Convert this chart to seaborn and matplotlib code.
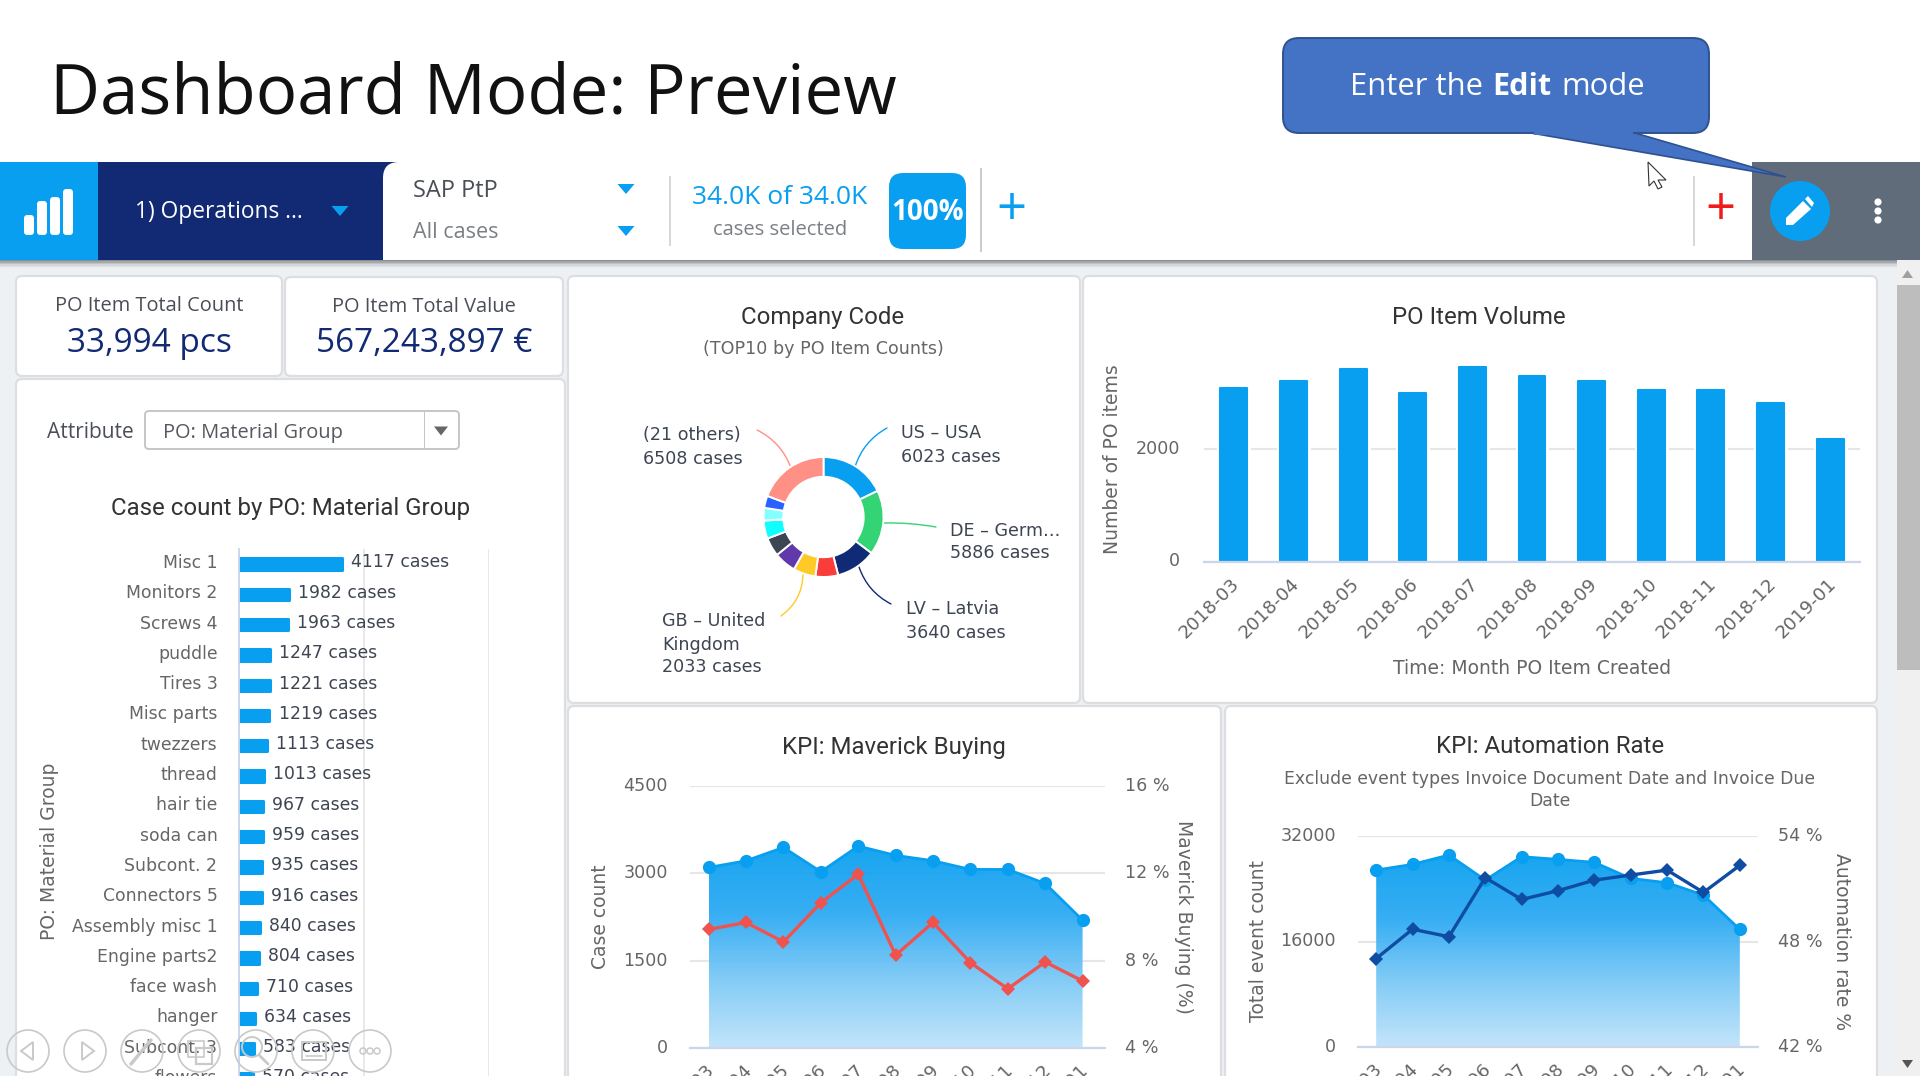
# Process mining dashboard screenshot rebuilt with seaborn charts on a pixel-sized canvas

import numpy as np
import pandas as pd
import matplotlib.pyplot as plt
import matplotlib.patheffects as pe
from matplotlib.colors import LinearSegmentedColormap
from matplotlib.patches import Circle, FancyBboxPatch, Polygon, Rectangle
from matplotlib.transforms import ScaledTranslation
import seaborn as sns

# Chart data
months = ["2018-03", "2018-04", "2018-05", "2018-06", "2018-07", "2018-08",
          "2018-09", "2018-10", "2018-11", "2018-12", "2019-01"]
po_volume = [3077, 3207, 3420, 2988, 3450, 3290, 3207, 3047, 3047, 2811, 2172]
case_count = [3101, 3216, 3445, 3027, 3468, 3308, 3216, 3067, 3067, 2826, 2196]
maverick_pct = [9.43, 9.75, 8.86, 10.65, 11.96, 8.25, 9.75, 7.91, 6.71, 7.94, 7.07]
event_count = [26835, 27696, 29114, 25316, 28861, 28456, 28000, 25570, 24911, 23038, 17823]
automation_pct = [47.03, 48.70, 48.27, 51.63, 50.39, 50.89, 51.49, 51.78, 52.06, 50.79, 52.33]

groups = ["Misc 1", "Monitors 2", "Screws 4", "puddle", "Tires 3", "Misc parts",
          "twezzers", "thread", "hair tie", "soda can", "Subcont. 2", "Connectors 5",
          "Assembly misc 1", "Engine parts2", "face wash", "hanger", "Subcont. 3", "flowers"]
group_cases = [4117, 1982, 1963, 1247, 1221, 1219, 1113, 1013, 967, 959, 935, 916,
               840, 804, 710, 634, 583, 570]

company_cases = [6023, 5886, 3640, 2060, 2033, 2000, 1700, 1650, 1150, 1100, 6508]
company_colors = ["#089ff0", "#32d474", "#112a75", "#f93d3a", "#ffca28", "#6239ab",
                  "#3d4753", "#0fffff", "#84ffff", "#2962ff", "#ff9085"]

# Colours
BLUE = "#089ff0"
NAVY = "#122a73"
BG = "#eef1f4"
BORDER = "#dcdee1"
GRID = "#e6e6e6"
AXIS = "#ccd6eb"
TICK = "#666666"
DARK = "#333333"
LABEL = "#3e4552"
TITLE_SIZE = 17.3
AXIS_TITLE = 13.5

sns.set_theme(style="white")
plt.rcParams["font.family"] = ["DejaVu Sans"]

fig = plt.figure(figsize=(19.2, 10.8), dpi=100, facecolor="white")

# Background layer, its data coordinates are image pixels
bg = fig.add_axes([0, 0, 1, 1], zorder=0)
bg.set_xlim(0, 1920)
bg.set_ylim(1080, 0)
bg.axis("off")


def px_axes(x0, y0, x1, y1, zorder=2):
    ax = fig.add_axes([x0 / 1920, 1 - y1 / 1080, (x1 - x0) / 1920, (y1 - y0) / 1080], zorder=zorder)
    ax.patch.set_alpha(0)
    return ax


def rect(ax, x0, y0, x1, y1, color, z=1):
    ax.add_patch(Rectangle((x0, y0), x1 - x0, y1 - y0, facecolor=color, edgecolor="none", zorder=z))


def rrect(ax, x0, y0, x1, y1, r, color, edge="none", lw=0, z=1):
    ax.add_patch(FancyBboxPatch((x0, y0), x1 - x0, y1 - y0, boxstyle=f"round,pad=0,rounding_size={r}",
                                facecolor=color, edgecolor=edge, linewidth=lw, zorder=z))


def label(ax, x, y, s, size, color=DARK, ha="left", font="Open Sans", weight="normal", rot=0, z=5):
    # text sits a little high against the screenshot, Open Sans more than the others
    y += 2 if font == "Open Sans" else 1.5
    ax.text(x, y, s, fontsize=size, color=color, ha=ha, va="center", family=font,
            fontweight=weight, rotation=rot, zorder=z)


def tri(ax, cx, cy, w, h, color, z=4):
    ax.add_patch(Polygon([(cx - w / 2, cy - h / 2), (cx + w / 2, cy - h / 2), (cx, cy + h / 2)],
                         facecolor=color, edgecolor="none", zorder=z))


def shift_labels(labels, dx=0, dy=0):
    offset = ScaledTranslation(dx / 100, -dy / 100, fig.dpi_scale_trans)
    for lab in labels:
        lab.set_transform(lab.get_transform() + offset)


# Page title and callout
label(bg, 50, 94, "Dashboard Mode: Preview", 49.7, "#111111")

# Header bar
rect(bg, 0, 162, 98, 260, BLUE)
rect(bg, 98, 162, 400, 260, NAVY)
rrect(bg, 383, 162, 1760, 300, 16, "white", z=1.1)
rect(bg, 1752, 162, 1920, 260, "#616c7b", z=1.2)

# Page background and header shadow
rect(bg, 0, 260, 1920, 1080, BG, z=1.3)
for i, c in enumerate(["#8a8d90", "#a5a8ab", "#bfc2c5", "#d3d6d9", "#e1e4e7", "#e9ecef"]):
    rect(bg, 0, 260 + i * 1.4, 1920, 261.4 + i * 1.4, c, z=1.4)

# Logo bars
for x0, top_y in zip([24, 37, 50, 63], [215, 201, 197, 189]):
    rrect(bg, x0, top_y, x0 + 10, 235, 3.5, "white", z=3)

label(bg, 135, 210, "1) Operations ...", 16.4, "white")
tri(bg, 340, 211, 17, 10, BLUE)
label(bg, 413, 189, "SAP PtP", 17, "#4a4f57")
label(bg, 413, 231, "All cases", 15.5, "#7b7f85")
tri(bg, 626, 189, 17, 10, BLUE)
tri(bg, 626, 231, 17, 10, BLUE)
rect(bg, 669, 176, 670.5, 246, "#d5d8db", z=3)
label(bg, 780, 195, "34.0K of 34.0K", 19, BLUE, ha="center")
label(bg, 780, 228, "cases selected", 14.5, "#7b7f85", ha="center")
rrect(bg, 889, 173, 966, 249, 14, BLUE, z=3)
label(bg, 928, 211, "100%", 20, "white", ha="center", weight="bold")
rect(bg, 980, 168, 981.5, 252, "#c8ccd0", z=3)
label(bg, 1011, 209, "+", 38, BLUE, ha="center")
rect(bg, 1693, 176, 1694.5, 246, "#d5d8db", z=3)
label(bg, 1720, 209, "+", 38, "#f01c1c", ha="center")

# Edit button and menu dots
bg.add_patch(Circle((1800, 211), 30, facecolor=BLUE, edgecolor="none", zorder=3))
bg.add_patch(Polygon([(1786, 225), (1786, 218), (1803, 201), (1811, 209), (1793, 225)],
                     facecolor="white", edgecolor="none", zorder=4))
bg.add_patch(Polygon([(1805, 199), (1808, 196), (1814, 203), (1812, 207)],
                     facecolor="white", edgecolor="none", zorder=4))
for y in [202, 211, 220]:
    bg.add_patch(Circle((1878, y), 3.6, facecolor="white", edgecolor="none", zorder=4))

# Mouse pointer
bg.add_patch(Polygon([(1648, 162), (1666, 180), (1658, 180), (1662, 187), (1658, 189),
                      (1654, 181), (1649, 186)], facecolor="white", edgecolor="#333333",
                     linewidth=0.8, zorder=6))

# Callout with the pointer tail over the header
bg.add_patch(Polygon([(1531, 133), (1786, 177), (1635, 133)], facecolor="#4472c4",
                     edgecolor="#2f528f", linewidth=1.2, zorder=7))
rrect(bg, 1283, 38, 1709, 133, 16, "#4472c4", "#2f528f", 1.4, z=7)
rect(bg, 1534, 130, 1633, 134.5, "#4472c4", z=7.1)
label(bg, 1350, 85, "Enter the", 22.3, "white", z=8)
label(bg, 1492, 85, "Edit", 22, "white", weight="bold", z=8)
label(bg, 1561, 85, "mode", 22.3, "white", z=8)

# Scrollbar
rect(bg, 1897, 260, 1920, 1080, "#f0f0f0", z=1.5)
rect(bg, 1897, 285, 1920, 670, "#bdbdbd", z=2)
bg.add_patch(Polygon([(1902, 278), (1913, 278), (1907.5, 270)], facecolor="#a0a0a0", edgecolor="none", zorder=3))
tri(bg, 1907.5, 1064, 11, 8, "#555555")

# Cards
for x0, y0, x1, y1 in [(16, 276, 282, 376), (285, 277, 563, 376), (16, 379, 565, 1100),
                       (568, 276, 1080, 703), (1083, 276, 1877, 703),
                       (568, 706, 1221, 1100), (1225, 706, 1877, 1100)]:
    rrect(bg, x0, y0, x1, y1, 6, "white", BORDER, 1.6, z=2)

# KPI tiles
label(bg, 149, 304, "PO Item Total Count", 14.4, "#4a4f57", ha="center")
label(bg, 149, 341, "33,994 pcs", 24, NAVY, ha="center")
label(bg, 424, 305, "PO Item Total Value", 14.4, "#4a4f57", ha="center")
label(bg, 424, 342, "567,243,897 €", 24, NAVY, ha="center")

# Attribute selector
label(bg, 47, 431, "Attribute", 15, "#4a4f57")
rrect(bg, 145, 411, 459, 449, 4, "white", "#c4c6c9", 1.4, z=3)
rect(bg, 424, 412, 425.2, 448, "#c4c6c9", z=4)
tri(bg, 441, 431, 14, 9, "#666666")
label(bg, 163, 431, "PO: Material Group", 14.4, "#55595f")

# Card titles
label(bg, 291, 507, "Case count by PO: Material Group", TITLE_SIZE, DARK, ha="center", font="Roboto")
label(bg, 823, 316, "Company Code", TITLE_SIZE, DARK, ha="center", font="Roboto")
label(bg, 823, 348, "(TOP10 by PO Item Counts)", 12.6, TICK, ha="center", font="DejaVu Sans")
label(bg, 1479, 316, "PO Item Volume", TITLE_SIZE, DARK, ha="center", font="Roboto")
label(bg, 894, 746, "KPI: Maverick Buying", TITLE_SIZE, DARK, ha="center", font="Roboto")
label(bg, 1550, 745, "KPI: Automation Rate", TITLE_SIZE, DARK, ha="center", font="Roboto")
label(bg, 1550, 777.5, "Exclude event types Invoice Document Date and Invoice Due", 12.4, TICK, ha="center", font="DejaVu Sans")
label(bg, 1550, 799.5, "Date", 12.4, TICK, ha="center", font="DejaVu Sans")

# Donut labels and connectors
donut_labels = [(643, 434, "(21 others)"), (643, 458, "6508 cases"),
                (901, 432, "US – USA"), (901, 455, "6023 cases"),
                (950, 530, "DE – Germ…"), (950, 552, "5886 cases"),
                (906, 608, "LV – Latvia"), (906, 631, "3640 cases"),
                (662, 620, "GB – United"), (662, 643, "Kingdom"), (662, 665, "2033 cases")]
for x, y, s in donut_labels:
    label(bg, x, y, s, 12.6, LABEL, font="DejaVu Sans")

connectors = [((757, 430), (791, 468), "#ff9085", -0.2), ((887, 428), (855, 467), BLUE, 0.2),
              ((936, 527), (884, 523), "#32d474", 0.05), ((891, 604), (859, 567), "#112a75", -0.2),
              ((781, 616), (803, 574), "#ffca28", 0.25)]
for start, end, color, rad in connectors:
    bg.annotate("", xy=end, xytext=start, zorder=4,
                arrowprops=dict(arrowstyle="-", color=color, lw=1, shrinkA=0, shrinkB=0,
                                connectionstyle=f"arc3,rad={rad}"))

# Donut chart
ax_pie = px_axes(757.5, 451, 889.5, 583)
ax_pie.pie(company_cases, colors=company_colors, startangle=90, counterclock=False, radius=1,
           wedgeprops=dict(width=0.33, edgecolor="white", linewidth=1.4))
ax_pie.set_xlim(-1.1, 1.1)
ax_pie.set_ylim(-1.1, 1.1)

# Horizontal bars, one row is 30.3 px
row_top = 564 - 15.15
ax_bar = px_axes(239, row_top, 489, 1110)
sns.barplot(x=group_cases, y=groups, orient="h", color=BLUE, saturation=1, width=0.37,
            linewidth=2.2, edgecolor=BLUE, ax=ax_bar)
for p in ax_bar.patches:
    p.set_joinstyle("round")
value_labels = ax_bar.bar_label(ax_bar.containers[0], labels=[f"{v} cases" for v in group_cases],
                                padding=6.5, fontsize=12.4, color=LABEL, zorder=3)
for ann in value_labels:
    ann.xyann = (ann.xyann[0], ann.xyann[1] + 1.2)
ax_bar.set_xlim(0, 10000)
ax_bar.set_ylim((1110 - row_top) / 30.3 - 0.5, -0.5)
ax_bar.set_xticks([0, 5000, 10000])
ax_bar.set_xticklabels([])
ax_bar.xaxis.grid(True, color=GRID, linewidth=1.3)
ax_bar.set_axisbelow(True)
ax_bar.tick_params(axis="y", length=0, pad=15.5, labelsize=12.4, labelcolor=TICK)
ax_bar.tick_params(axis="x", length=0)
sns.despine(ax=ax_bar, top=True, right=True, bottom=True)
ax_bar.spines["left"].set_color(AXIS)
ax_bar.spines["left"].set_linewidth(1.3)
ax_bar.set_ylabel("PO: Material Group", fontsize=AXIS_TITLE, color=TICK, va="center", ha="center")
ax_bar.yaxis.set_label_coords(50, 851, transform=bg.transData)
shift_labels(ax_bar.get_yticklabels(), dy=-3)


def style_months(ax, x_max=10.5):
    ax.set_xlim(-0.5, x_max)
    ax.set_xticks(range(len(months)))
    ax.set_xticklabels(months, rotation=45, ha="right", va="center", rotation_mode="anchor")
    ax.tick_params(axis="x", length=0, pad=13.5, labelsize=13.2, labelcolor=TICK)
    ax.tick_params(axis="y", length=0, pad=16, labelsize=12.6, labelcolor=TICK)
    ax.yaxis.grid(True, color=GRID, linewidth=1.5)
    ax.xaxis.grid(False)
    ax.set_axisbelow(True)
    for side in ["top", "left", "right"]:
        ax.spines[side].set_visible(False)
    ax.spines["bottom"].set_color(AXIS)
    ax.spines["bottom"].set_linewidth(1.6)


# PO Item Volume
ax_vol = px_axes(1204, 350, 1860, 562)
sns.barplot(x=months, y=po_volume, color=BLUE, saturation=1, width=0.45, linewidth=1.5,
            edgecolor=BLUE, ax=ax_vol)
for p in ax_vol.patches:
    p.set_joinstyle("round")
    p.set_path_effects([pe.withStroke(linewidth=5, foreground="white")])
style_months(ax_vol)
ax_vol.set_ylim(0, 212 / 113 * 2000)
ax_vol.set_yticks([0, 2000])
ax_vol.tick_params(axis="y", pad=17)
ax_vol.set_ylabel("Number of PO items", fontsize=AXIS_TITLE, color=TICK, va="center", ha="center")
ax_vol.yaxis.set_label_coords(1112, 459, transform=bg.transData)
ax_vol.set_xlabel("Time: Month PO Item Created", fontsize=AXIS_TITLE, color=TICK, va="center", ha="center")
ax_vol.xaxis.set_label_coords(1532, 668, transform=bg.transData)
shift_labels(ax_vol.get_yticklabels(), dy=-2.5)
shift_labels(ax_vol.get_xticklabels(), dx=3)

area_cmap = LinearSegmentedColormap.from_list("area", ["#089ff0", "#2aa9f3", "#7cc9f6", "#bfe3fa"])


def combo_chart(box, counts, rates, y_max, y_ticks, rate_lim, rate_ticks, line_color,
                left_name, right_name, left_pos, right_pos, x_max=10.5):
    ax = px_axes(*box)
    sns.lineplot(x=months, y=counts, color=BLUE, marker="o", markersize=9.5, markeredgewidth=0,
                 linewidth=2, sort=False, errorbar=None, ax=ax, zorder=3)
    # gradient under the count line
    poly = ax.fill_between(range(len(counts)), counts, 0, facecolor="none", edgecolor="none")
    grad = np.linspace(0, 1, 256).reshape(-1, 1)
    im = ax.imshow(grad, cmap=area_cmap, aspect="auto", extent=(0, len(counts) - 1, 0, max(counts)),
                   origin="upper", alpha=0.94, zorder=2)
    im.set_clip_path(poly.get_paths()[0], transform=ax.transData)
    style_months(ax, x_max)
    ax.set_ylim(0, y_max)
    ax.set_yticks(y_ticks)
    ax.set_ylabel(left_name, fontsize=AXIS_TITLE, color=TICK, va="center", ha="center")
    ax.yaxis.set_label_coords(*left_pos, transform=bg.transData)
    shift_labels(ax.get_yticklabels(), dy=-2)
    shift_labels(ax.get_xticklabels(), dx=3)

    ax2 = ax.twinx()
    ax2.set_zorder(ax.get_zorder() + 1)
    ax2.patch.set_alpha(0)
    sns.lineplot(x=months, y=rates, color=line_color, marker="D", markersize=7.5, markeredgewidth=0,
                 linewidth=2.4, sort=False, errorbar=None, ax=ax2)
    ax2.set_xlim(-0.5, x_max)
    ax2.set_ylim(*rate_lim)
    ax2.set_yticks(rate_ticks)
    ax2.set_yticklabels([f"{t} %" for t in rate_ticks])
    ax2.tick_params(axis="y", length=0, pad=14.5, labelsize=12.6, labelcolor=TICK)
    ax2.grid(False)
    for side in ["top", "left", "right", "bottom"]:
        ax2.spines[side].set_visible(False)
    ax2.set_ylabel(right_name, fontsize=AXIS_TITLE, color=TICK, rotation=-90, va="center", ha="center")
    ax2.yaxis.set_label_coords(*right_pos, transform=bg.transData)
    shift_labels(ax2.get_yticklabels(), dy=-2)


combo_chart((690, 786, 1105, 1048), case_count, maverick_pct, 4500, [0, 1500, 3000, 4500],
            (4, 16), [4, 8, 12, 16], "#ef5350", "Case count", "Maverick Buying (%)", (600, 917), (1184, 917), x_max=10.6)
combo_chart((1358, 836, 1758, 1047), event_count, automation_pct, 32000, [0, 16000, 32000],
            (42, 54), [42, 48, 54], "#0f4da3", "Total event count", "Automation rate %", (1258, 941), (1841, 942))

# Top layer: slideshow controls and the white strip below the screenshot
top = fig.add_axes([0, 0, 1, 1], zorder=10)
top.set_xlim(0, 1920)
top.set_ylim(1080, 0)
top.axis("off")
top.patch.set_alpha(0)
FAINT = "#c9c9c9"
for cx in [28, 85, 142, 199, 256, 313, 370]:
    top.add_patch(Circle((cx, 1051), 21, facecolor="none", edgecolor=FAINT, linewidth=1.2))
top.add_patch(Polygon([(33, 1042), (33, 1060), (21, 1051)], facecolor="none", edgecolor=FAINT, linewidth=1.4))
top.add_patch(Polygon([(82, 1042), (82, 1060), (94, 1051)], facecolor="none", edgecolor=FAINT, linewidth=1.4))
top.plot([131, 151], [1064, 1040], color=FAINT, linewidth=2.5)
top.add_patch(Rectangle((188, 1041), 16, 16, facecolor="none", edgecolor=FAINT, linewidth=1.2))
top.add_patch(Rectangle((196, 1048), 16, 16, facecolor="none", edgecolor=FAINT, linewidth=1.6))
top.add_patch(Circle((252, 1047), 10, facecolor="none", edgecolor=FAINT, linewidth=1.4))
top.plot([259, 268], [1055, 1064], color=FAINT, linewidth=2)
top.add_patch(Rectangle((302, 1042), 24, 18, facecolor="none", edgecolor=FAINT, linewidth=1.4))
top.plot([306, 322], [1056, 1056], color=FAINT, linewidth=1.2)
for cx in [363, 370, 377]:
    top.add_patch(Circle((cx, 1051), 3, facecolor="none", edgecolor=FAINT, linewidth=1.1))
rect(top, 0, 1076, 1920, 1081, "white", z=9)

fig.savefig("out.png", dpi=100)
plt.close(fig)
